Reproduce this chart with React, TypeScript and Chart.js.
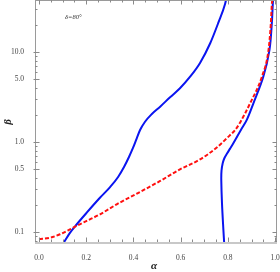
import React, { useEffect, useRef } from "react";
import { Chart, registerables } from "chart.js";

Chart.register(...registerables);

// Red dashed curve
const redAlpha = [0, 0.047, 0.089, 0.131, 0.159, 0.202, 0.258, 0.329, 0.417, 0.513, 0.597, 0.682, 0.753, 0.806, 0.831, 0.852, 0.894, 0.944, 0.972, 0.982, 0.986, 0.989];
const redBeta = [0.0836, 0.0865, 0.0944, 0.107, 0.117, 0.133, 0.157, 0.203, 0.269, 0.369, 0.497, 0.64, 0.87, 1.17, 1.36, 1.65, 2.69, 5.32, 10.5, 20.8, 33.3, 40];

// Blue left curve
const blueLAlpha = [0.103, 0.131, 0.16, 0.202, 0.258, 0.301, 0.335, 0.36, 0.381, 0.398, 0.414, 0.428, 0.449, 0.478, 0.513, 0.555, 0.597, 0.64, 0.682, 0.725, 0.76, 0.788, 0.794];
const blueLBeta = [0.075, 0.098, 0.122, 0.164, 0.24, 0.316, 0.409, 0.527, 0.681, 0.858, 1.1, 1.36, 1.68, 2.05, 2.47, 3.14, 3.95, 5.31, 7.55, 12.5, 21.3, 34.1, 40];

// Blue right curve
const blueRAlpha = [0.785, 0.781, 0.775, 0.772, 0.773, 0.778, 0.785, 0.797, 0.81, 0.823, 0.855, 0.88, 0.908, 0.95, 0.976, 0.986, 0.99, 0.992];
const blueRBeta = [0.07, 0.105, 0.208, 0.378, 0.48, 0.58, 0.66, 0.75, 0.85, 0.967, 1.36, 1.76, 2.69, 5.32, 10.5, 20.8, 33.3, 40];

const xTicks = [0, 0.2, 0.4, 0.6, 0.8, 1.0];
const yTicks = [0.1, 0.5, 1, 5, 10];
const annotation = "δ=80°";

const pts = (xs: number[], ys: number[]) => xs.map((x, i) => ({ x, y: ys[i] }));

const SERIF = "'Liberation Serif', 'DejaVu Serif', serif";

const framePlugin = {
  id: "frame",
  afterDatasetsDraw(chart: any) {
    const { ctx, chartArea: a, scales } = chart;
    const xs = scales.x;
    const ys = scales.y;
    ctx.save();
    ctx.strokeStyle = "#9a9a9a";
    ctx.lineWidth = 1;
    ctx.strokeRect(a.left + 0.5, a.top + 0.5, a.right - a.left - 1, a.bottom - a.top - 1);
    ctx.strokeStyle = "#c8c8c8";
    ctx.lineWidth = 2;
    ctx.beginPath();
    ctx.moveTo(a.left, a.bottom);
    ctx.lineTo(a.right, a.bottom);
    ctx.stroke();
    ctx.strokeStyle = "#8a8a8a";
    ctx.lineWidth = 1;
    for (let i = 0; i <= 20; i++) {
      const v = i * 0.05;
      const major = i % 4 === 0;
      const len = major ? 4.5 : 2.5;
      const px = Math.round(xs.getPixelForValue(v)) + 0.5;
      ctx.beginPath();
      ctx.moveTo(px, a.bottom - 1);
      ctx.lineTo(px, a.bottom - 1 - len);
      ctx.moveTo(px, a.top);
      ctx.lineTo(px, a.top + len);
      ctx.stroke();
    }
    for (let d = -2; d <= 2; d++) {
      for (let k = 1; k <= 9; k++) {
        const v = k * Math.pow(10, d);
        if (v < ys.min || v > ys.max) continue;
        const major = yTicks.some((t) => Math.abs(t - v) < 1e-9);
        const len = major ? 4.5 : 2.5;
        const py = Math.round(ys.getPixelForValue(v)) + 0.5;
        ctx.beginPath();
        ctx.moveTo(a.left - (major ? 1.5 : 0), py);
        ctx.lineTo(a.left + len, py);
        ctx.moveTo(a.right, py);
        ctx.lineTo(a.right - len, py);
        ctx.stroke();
      }
    }
    ctx.fillStyle = "#333";
    ctx.font = `italic 6.5px ${SERIF}`;
    ctx.textAlign = "center";
    ctx.textBaseline = "middle";
    ctx.fillText(annotation, xs.getPixelForValue(0.145), ys.getPixelForValue(24));
    ctx.fillStyle = "#222";
    ctx.font = `bold italic 11px ${SERIF}`;
    ctx.fillText("α", 154, 266);
    ctx.translate(8, 122);
    ctx.rotate(-Math.PI / 2);
    ctx.fillText("β", 0, 0);
    ctx.restore();
  },
};

export default function App() {
  const ref = useRef<HTMLCanvasElement | null>(null);
  useEffect(() => {
    if (!ref.current) return;
    const tickFont = { family: SERIF, size: 7.5 };
    const chart = new Chart(ref.current, {
      type: "scatter",
      data: {
        datasets: [
          {
            data: pts(redAlpha, redBeta),
            showLine: true,
            borderColor: "#ff1010",
            borderWidth: 2,
            borderDash: [4, 2],
            pointRadius: 0,
            cubicInterpolationMode: "monotone",
          },
          {
            data: pts(blueLAlpha, blueLBeta),
            showLine: true,
            borderColor: "#0a14f0",
            borderWidth: 2,
            pointRadius: 0,
            cubicInterpolationMode: "monotone",
          },
          {
            data: pts(blueRAlpha, blueRBeta),
            showLine: true,
            borderColor: "#0a14f0",
            borderWidth: 2,
            pointRadius: 0,
            tension: 0.35,
          },
        ],
      },
      options: {
        animation: false,
        responsive: false,
        devicePixelRatio: 1,
        layout: { padding: { top: 0, right: 3, left: 0, bottom: 0 } },
        plugins: { legend: { display: false }, tooltip: { enabled: false } },
        scales: {
          x: {
            type: "linear",
            min: -0.017,
            max: 1.008,
            grid: { display: false },
            border: { display: false },
            afterBuildTicks: (s: any) => {
              s.ticks = xTicks.map((v) => ({ value: v }));
            },
            ticks: {
              font: tickFont,
              color: "#444",
              padding: 3,
              maxRotation: 0,
              autoSkip: false,
              callback: (v: any) => Number(v).toFixed(1),
            },
            afterFit: (s: any) => {
              s.height = 29;
              s.paddingLeft = 0;
              s.paddingRight = 0;
            },
          },
          y: {
            type: "logarithmic",
            min: 0.0755,
            max: 37.8,
            grid: { display: false },
            border: { display: false },
            afterBuildTicks: (s: any) => {
              s.ticks = yTicks.map((v) => ({ value: v }));
            },
            ticks: {
              font: tickFont,
              color: "#444",
              padding: 3,
              autoSkip: false,
              callback: (v: any) => Number(v).toFixed(1),
            },
            afterFit: (s: any) => {
              s.width = 35;
              s.paddingTop = 0;
              s.paddingBottom = 0;
            },
          },
        },
      },
      plugins: [framePlugin],
    } as any);
    return () => chart.destroy();
  }, []);
  return (
    <div style={{ position: "absolute", left: 0, top: 0, width: 280, height: 272, background: "#fff" }}>
      <canvas ref={ref} width={280} height={272} style={{ width: 280, height: 272 }} />
    </div>
  );
}
